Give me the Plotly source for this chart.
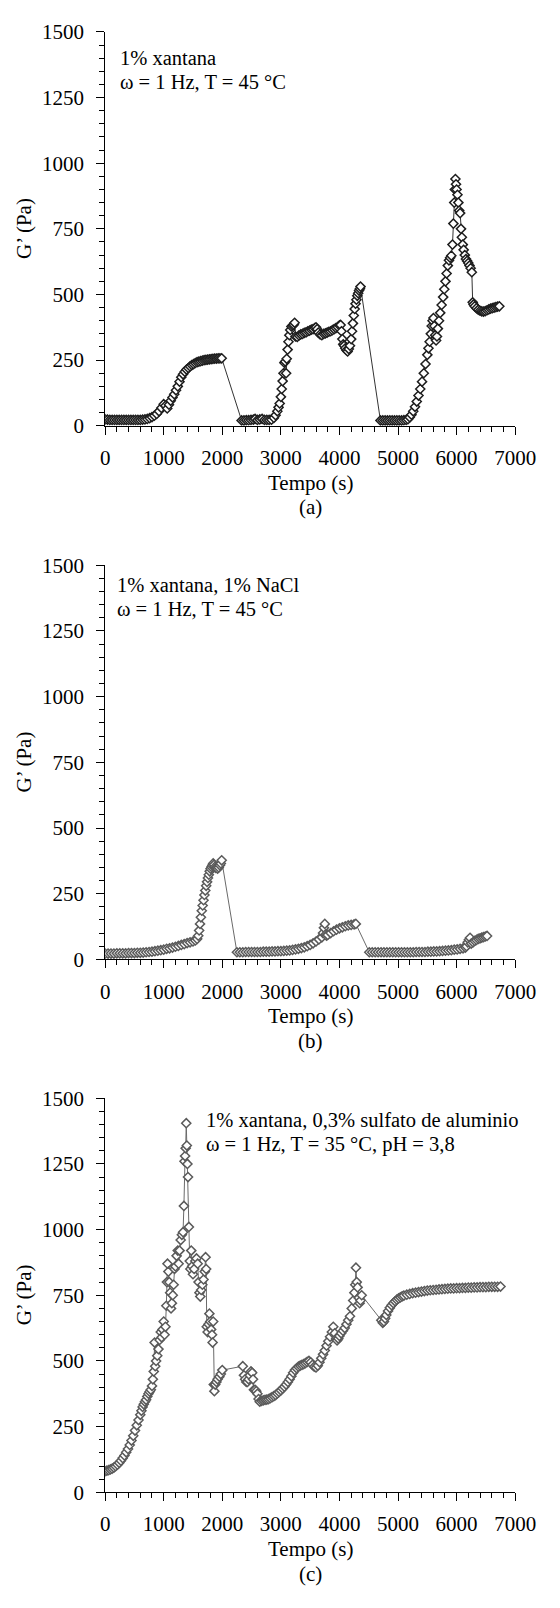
import plotly.graph_objects as go

# ---------------- data (time s, G' Pa) ----------------
# Panel (a): 1% xantana, 45 °C
a_pts = [(0,24),(40,23),(80,22),(120,22),(160,22),(200,22),(240,22),(280,22),(320,22),(360,22),(400,22),
         (440,22),(480,22),(520,22),(560,22),(600,22),(640,23),(680,24),(720,26),(760,29),(800,33),(840,38),
         (880,45),(920,55),(960,68),(1000,82),(1030,76),(1060,66),(1090,80),(1120,95),(1150,108),(1180,120),
         (1210,135),(1240,150),(1270,168),(1300,185),(1330,196),(1360,206),(1390,214),(1420,220),(1450,226),
         (1480,231),(1510,235),(1540,239),(1570,242),(1600,244),(1630,246),(1660,248),(1690,250),(1720,251),
         (1750,252),(1780,253),(1810,254),(1840,255),(1870,256),(1900,256),(1930,257),(1960,257),(1990,257),
         (2330,20),(2370,20),(2410,21),(2450,21),(2490,22),(2530,23),(2560,26),(2600,22),(2640,24),(2680,26),
         (2720,22),(2760,22),(2800,22),(2840,23),(2880,30),(2910,40),(2940,55),(2960,70),(2980,85),(3000,110),
         (3015,140),(3030,170),(3045,200),(3060,240),(3075,245),(3090,200),(3100,255),(3115,290),(3130,320),
         (3145,345),(3160,365),(3180,378),(3200,382),(3220,385),(3235,392),(3250,340),(3280,338),(3310,344),
         (3340,348),(3370,350),(3400,354),(3430,356),(3460,360),(3490,362),(3520,366),(3550,368),(3580,372),
         (3600,375),(3620,368),(3640,355),(3670,348),(3700,345),(3730,350),(3760,352),(3790,355),(3820,358),
         (3850,360),(3880,364),(3910,368),(3940,372),(3970,376),(4000,382),(4020,384),(4035,360),(4050,330),
         (4065,310),(4080,305),(4100,295),(4120,288),(4140,283),(4160,292),(4180,305),(4200,330),(4215,360),
         (4230,390),(4245,420),(4260,445),(4275,465),(4290,480),(4305,495),(4320,505),(4335,515),(4350,522),
         (4360,530),
         (4700,20),(4740,20),(4780,20),(4820,20),(4860,20),(4900,20),(4940,20),(4980,20),(5020,20),(5060,20),
         (5100,21),(5140,22),(5170,25),(5200,32),(5230,42),(5260,55),(5290,72),(5320,92),(5350,115),(5380,140),
         (5410,168),(5440,200),(5470,235),(5500,270),(5520,295),(5540,320),(5560,350),(5575,380),(5590,400),
         (5605,410),(5620,380),(5635,345),(5650,325),(5665,340),(5680,370),(5700,400),(5720,430),(5745,460),
         (5770,490),(5790,520),(5810,550),(5830,580),(5850,610),(5870,630),(5890,640),(5910,648),(5930,690),
         (5945,770),(5960,850),(5970,900),(5980,940),(5990,920),(6000,900),(6015,880),(6030,850),(6045,820),
         (6060,810),(6075,750),(6090,718),(6105,690),(6120,670),(6140,650),(6160,635),(6180,628),(6200,620),
         (6220,610),(6240,600),(6260,585),(6275,470),(6290,462),(6310,455),(6340,448),(6370,442),(6400,438),
         (6430,436),(6460,435),(6490,437),(6520,440),(6550,443),(6580,446),(6610,448),(6640,450),(6670,452),
         (6700,454),(6730,455)]

# Panel (b): 1% xantana, 1% NaCl, 45 °C
b_pts = [(0,22),(50,22),(100,22),(150,22),(200,23),(250,23),(300,23),(350,23),(400,24),(450,24),(500,24),
         (550,25),(600,25),(650,26),(700,27),(750,28),(800,29),(850,31),(900,33),(950,35),(1000,37),(1050,40),
         (1100,42),(1150,45),(1200,48),(1250,51),(1300,55),(1350,58),(1400,62),(1450,65),(1500,68),(1540,72),
         (1570,78),(1590,90),(1605,110),(1620,135),(1635,160),(1650,185),(1665,205),(1680,225),(1695,245),
         (1710,262),(1725,280),(1740,295),(1755,310),(1770,322),(1785,335),(1800,345),(1815,352),(1830,358),
         (1845,365),(1860,360),(1875,352),(1890,348),(1905,350),(1920,345),(1940,350),(1960,358),(1975,365),
         (1990,377),
         (2250,27),(2300,27),(2350,27),(2400,28),(2450,28),(2500,28),(2550,28),(2600,28),(2650,28),(2700,29),
         (2750,29),(2800,29),(2850,30),(2900,30),(2950,31),(3000,31),(3050,32),(3100,33),(3150,34),(3200,36),
         (3250,38),(3300,40),(3350,43),(3400,46),(3450,50),(3500,55),(3550,61),(3600,68),(3650,76),(3700,84),
         (3720,100),(3735,120),(3750,135),(3765,95),(3780,90),(3800,93),(3850,100),(3900,107),(3950,113),
         (4000,118),(4050,122),(4100,126),(4150,129),(4200,131),(4250,133),(4280,135),
         (4510,27),(4560,27),(4610,27),(4660,27),(4710,27),(4760,27),(4810,27),(4860,27),(4910,27),(4960,27),
         (5010,27),(5060,27),(5110,27),(5160,27),(5210,27),(5260,27),(5310,28),(5360,28),(5410,28),(5460,28),
         (5510,29),(5560,29),(5610,30),(5660,30),(5710,31),(5760,32),(5810,33),(5860,34),(5910,35),(5960,37),
         (6010,38),(6060,40),(6110,42),(6150,45),(6170,50),(6190,65),(6210,75),(6230,82),(6250,60),(6280,65),
         (6310,70),(6340,74),(6370,78),(6400,80),(6430,83),(6460,85),(6490,87),(6520,89)]

# Panel (c): 1% xantana, 0,3% sulfato de aluminio, 35 °C, pH 3,8
c_pts = [(0,80),(30,82),(60,84),(90,87),(120,90),(150,94),(180,99),(210,105),(240,112),(270,120),(300,130),
         (330,140),(360,152),(390,165),(420,180),(450,197),(480,215),(510,235),(540,255),(570,275),(600,295),
         (620,310),(640,325),(660,335),(680,345),(700,352),(720,365),(740,375),(760,383),(780,390),(800,405),
         (815,430),(830,460),(845,570),(855,480),(870,500),(890,520),(910,545),(930,580),(950,610),(965,590),
         (980,620),(1000,650),(1015,600),(1030,630),(1045,710),(1055,800),(1065,870),(1080,840),(1095,800),
         (1110,760),(1125,700),(1140,720),(1155,750),(1170,790),(1185,850),(1200,860),(1220,900),(1240,920),
         (1255,870),(1270,920),(1290,960),(1310,980),(1330,990),(1345,1090),(1355,1260),(1365,1280),
         (1375,1310),(1385,1405),(1395,1320),(1405,1250),(1415,1200),(1430,1010),(1445,880),(1455,850),
         (1470,920),(1485,860),(1500,830),(1520,850),(1540,880),(1560,890),(1580,870),(1595,800),(1610,760),
         (1625,745),(1640,770),(1660,790),(1680,810),(1700,840),(1715,895),(1725,850),(1735,630),(1750,610),
         (1765,640),(1780,680),(1795,650),(1810,620),(1825,600),(1835,570),(1845,650),(1855,410),(1865,385),
         (1880,410),(1900,420),(1920,430),(1950,440),(1975,450),(2000,465),(2350,480),(2370,445),(2390,430),
         (2410,420),(2430,420),(2450,430),(2470,445),(2490,460),(2510,455),(2525,430),(2540,390),(2560,390),
         (2580,385),(2600,375),(2620,355),(2640,345),(2670,348),(2700,350),(2730,352),(2760,353),(2790,355),
         (2820,358),(2850,362),(2880,366),(2910,370),(2940,376),(2970,382),(3000,388),(3030,395),(3060,402),
         (3090,410),(3120,420),(3150,430),(3180,442),(3210,455),(3240,465),(3270,472),(3300,478),(3330,482),
         (3360,485),(3390,488),(3420,492),(3450,496),(3480,500),(3510,495),(3540,485),(3570,478),(3600,475),
         (3630,482),(3660,495),(3690,510),(3720,525),(3750,540),(3780,558),(3810,575),(3840,592),(3870,610),
         (3895,630),(3920,605),(3945,585),(3960,578),(3980,585),(4000,595),(4030,605),(4060,615),(4090,625),
         (4120,640),(4150,655),(4180,670),(4210,700),(4235,730),(4255,760),(4270,790),(4282,855),(4295,800),
         (4310,780),(4330,740),(4345,720),(4360,730),(4380,750),
         (4715,655),(4740,645),(4760,650),(4780,662),(4800,675),(4830,690),(4860,702),(4890,712),(4920,720),
         (4950,727),(4980,733),(5010,738),(5040,742),(5070,746),(5100,749),(5150,752),(5200,755),(5250,758),
         (5300,760),(5350,762),(5400,764),(5450,766),(5500,768),(5550,769),(5600,770),(5650,771),(5700,772),
         (5750,773),(5800,774),(5850,775),(5900,776),(5950,776),(6000,777),(6050,777),(6100,778),(6150,778),
         (6200,779),(6250,779),(6300,780),(6350,780),(6400,781),(6450,781),(6500,781),(6550,782),(6600,782),
         (6650,782),(6700,782),(6750,783)]

a_t = [p[0] for p in a_pts]; a_g = [p[1] for p in a_pts]
b_t = [p[0] for p in b_pts]; b_g = [p[1] for p in b_pts]
c_t = [p[0] for p in c_pts]; c_g = [p[1] for p in c_pts]

y_ticks = [0, 250, 500, 750, 1000, 1250, 1500]
x_ticks = [0, 1000, 2000, 3000, 4000, 5000, 6000, 7000]
x_title = "Tempo (s)"
y_title = "G’ (Pa)"
panel_labels = ["(a)", "(b)", "(c)"]
notes = [["1% xantana", "ω = 1 Hz, T = 45 °C"],
         ["1% xantana, 1% NaCl", "ω = 1 Hz, T = 45 °C"],
         ["1% xantana, 0,3% sulfato de aluminio", "ω = 1 Hz, T = 35 °C, pH = 3,8"]]

# ---------------- layout geometry (pixels) ----------------
W, H = 560, 1608
X0, X1 = 105, 535
tops = [20.3, 561.7, 1102.7]
bots = [420.0, 961.7, 1502.7]
note_pos = [(119, 46.5, 71), (115.5, 581.5, 606), (209, 1125, 1150)]
colors = [("#1e1e1e", "#333333"), ("#5a5a5a", "#6a6a6a"), ("#5a5a5a", "#6a6a6a")]

FONT = "Liberation Serif"
FS = 21
FS_NOTE = 20.5

def py(p):
    return 1 - p / H

fig = go.Figure()
data = [(a_t, a_g), (b_t, b_g), (c_t, c_g)]
ann = []
for i, (t, g) in enumerate(data):
    xa = "x" if i == 0 else f"x{i+1}"
    ya = "y" if i == 0 else f"y{i+1}"
    mc, lc = colors[i]
    fig.add_trace(go.Scatter(
        x=t, y=g, mode="lines+markers", xaxis=xa, yaxis=ya, showlegend=False,
        line=dict(color=lc, width=1),
        marker=dict(symbol="diamond", size=7, color="white", line=dict(color=mc, width=1.5)),
    ))
    axis_common = dict(showline=True, linecolor="black", linewidth=1, ticks="outside", ticklen=8,
                       tickwidth=1, tickcolor="black", showgrid=False, zeroline=False,
                       tickfont=dict(family=FONT, size=FS, color="black"))
    xk = "xaxis" if i == 0 else f"xaxis{i+1}"
    yk = "yaxis" if i == 0 else f"yaxis{i+1}"
    fig.update_layout(**{
        xk: dict(domain=[X0 / W, X1 / W], range=[0, 7000], anchor=ya, tickvals=x_ticks,
                 minor=dict(dtick=200, tick0=0, ticks="outside", ticklen=5, tickcolor="black", tickwidth=1),
                 ticklabelstandoff=5, **axis_common),
        yk: dict(domain=[py(bots[i]), py(tops[i])], range=[0, 1500], anchor=xa, tickvals=y_ticks,
                 minor=dict(dtick=50, tick0=0, ticks="outside", ticklen=5, tickcolor="black", tickwidth=1),
                 ticklabelstandoff=8, **axis_common),
    })
    off = bots[i] - bots[0]
    ann.append(dict(text=x_title, x=(X0 + X1) / 2 / W, y=py(478 + off), xref="paper", yref="paper",
                    showarrow=False, xanchor="center", yanchor="middle",
                    font=dict(family=FONT, size=FS, color="black")))
    ann.append(dict(text=panel_labels[i], x=(X0 + X1) / 2 / W, y=py(503 + off), xref="paper", yref="paper",
                    showarrow=False, xanchor="center", yanchor="middle",
                    font=dict(family=FONT, size=FS, color="black")))
    ann.append(dict(text=y_title, x=20 / W, y=py((tops[i] + bots[i]) / 2), xref="paper", yref="paper",
                    showarrow=False, xanchor="center", yanchor="middle", textangle=-90,
                    font=dict(family=FONT, size=FS, color="black")))
    nx, ny1, ny2 = note_pos[i]
    for txt, yy in zip(notes[i], (ny1, ny2)):
        ann.append(dict(text=txt, x=nx / W, y=py(yy), xref="paper", yref="paper", showarrow=False,
                        xanchor="left", yanchor="middle", font=dict(family=FONT, size=FS_NOTE, color="black")))

fig.update_layout(width=W, height=H, margin=dict(l=0, r=0, t=0, b=0),
                  paper_bgcolor="white", plot_bgcolor="white", annotations=ann,
                  font=dict(family=FONT, size=FS, color="black"))

fig.write_html("out.html")
